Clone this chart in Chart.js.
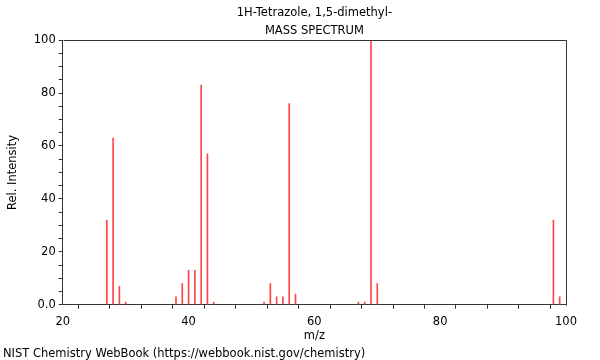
<!DOCTYPE html>
<html>
<head>
<meta charset="utf-8">
<script src="https://cdn.jsdelivr.net/npm/chart.js@4"></script>
<style>
  body { margin: 0; background: #fff; }
</style>
</head>
<body>
<canvas id="spectrum" width="600" height="360"></canvas>
<script>
// mass spectrum peaks (m/z and relative intensity)
const mz = [27, 28, 29, 30, 38, 39, 40, 41, 42, 43, 44, 52, 53, 54, 55, 56, 57, 67, 68, 69, 70, 98, 99];
const intensity = [32, 63, 7, 1, 3, 8, 13, 13, 83, 57, 1, 1, 8, 3, 3, 76, 4, 1, 1, 100, 8, 32, 3];
const titleLines = ["1H-Tetrazole, 1,5-dimethyl-", "MASS SPECTRUM"];
const footer = "NIST Chemistry WebBook (https://webbook.nist.gov/chemistry)";

const points = mz.map((m, i) => ({ x: m, y: intensity[i] }));

const fontFam = "'DejaVu Sans', sans-serif";
const axisColor = '#333';

// box round the plot (top and right sides)
const frame = {
  id: 'frame',
  afterDraw(chart) {
    const a = chart.chartArea;
    const c = chart.ctx;
    c.save();
    c.strokeStyle = axisColor;
    c.lineWidth = 1;
    c.beginPath();
    c.moveTo(Math.round(a.left) + 0.5, Math.round(a.top) + 0.5);
    c.lineTo(Math.round(a.right) + 0.5, Math.round(a.top) + 0.5);
    c.lineTo(Math.round(a.right) + 0.5, Math.round(a.bottom) + 0.5);
    c.stroke();
    c.restore();
  }
};

const ctx = document.getElementById('spectrum').getContext('2d');
const myChart = new Chart(ctx, {
  type: 'bar',
  data: {
    datasets: [{
      data: points,
      backgroundColor: 'rgb(255, 70, 70)',
      barThickness: 1,
      grouped: false
    }]
  },
  plugins: [frame],
  options: {
    responsive: false,
    animation: false,
    layout: { padding: { left: 3, right: 34, top: 0, bottom: 0 } },
    plugins: {
      legend: { display: false },
      tooltip: { enabled: false },
      title: {
        display: true,
        text: titleLines,
        fullSize: false,
        color: '#000',
        font: { family: fontFam, size: 11.5, weight: 'normal', lineHeight: 1.57 },
        padding: { top: 4, bottom: 0 }
      },
      subtitle: {
        display: true,
        text: footer,
        position: 'bottom',
        align: 'start',
        color: '#000',
        font: { family: fontFam, size: 11.5, weight: 'normal', lineHeight: 1.1 },
        padding: { top: 2, bottom: 0 }
      }
    },
    scales: {
      x: {
        type: 'linear',
        min: 20,
        max: 100,
        offset: false,
        border: { display: true, color: axisColor, width: 1 },
        grid: { display: true, drawOnChartArea: false, drawTicks: true, tickLength: 4, color: axisColor },
        ticks: {
          stepSize: 5,
          color: '#000',
          font: { family: fontFam, size: 11.5 },
          padding: 6,
          maxRotation: 0,
          autoSkip: false,
          callback: v => (v % 20 === 0 ? v : '')
        },
        title: {
          display: true,
          text: 'm/z',
          color: '#000',
          font: { family: fontFam, size: 11.5 },
          padding: { top: -5, bottom: 2 }
        }
      },
      y: {
        min: 0,
        max: 100,
        border: { display: true, color: axisColor, width: 1 },
        grid: { display: true, drawOnChartArea: false, drawTicks: true, tickLength: 4, color: axisColor },
        ticks: {
          stepSize: 5,
          color: '#000',
          font: { family: fontFam, size: 11.5 },
          padding: 3,
          autoSkip: false,
          callback: v => (v === 0 ? '0.0' : (v % 20 === 0 ? v : ''))
        },
        title: {
          display: true,
          text: 'Rel. Intensity',
          color: '#000',
          font: { family: fontFam, size: 11.5 },
          padding: { top: 3, bottom: 11 }
        }
      }
    }
  }
});
</script>
</body>
</html>
